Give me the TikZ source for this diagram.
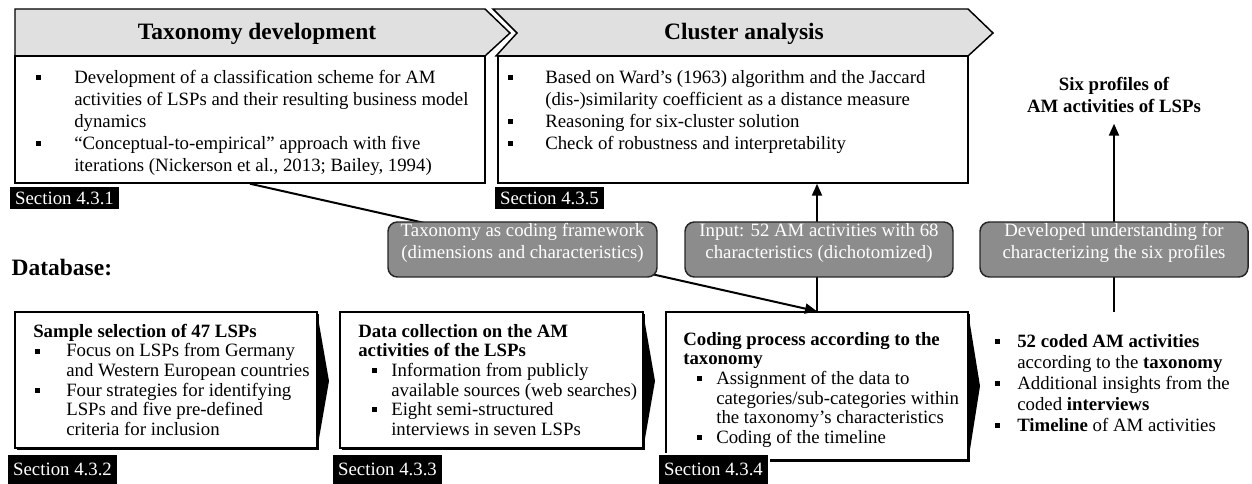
\documentclass[tikz,border=0pt]{standalone}
\usepackage{fontspec}
\setmainfont{Liberation Serif}
\usetikzlibrary{arrows.meta,fit,calc}
\definecolor{hdrgray}{RGB}{224,224,224}
\definecolor{pillgray}{RGB}{140,140,140}
\newcommand\bsq{\rule[2.4pt]{3.8pt}{3.8pt}}
\newcommand\bl[2]{\hspace*{#1}\makebox[#2][l]{\bsq}}
\newcommand\tp{\rule{0pt}{11pt}}
\newcommand\fbody{\fontsize{14.1pt}{16.5pt}\selectfont}
\newcommand\fbot{\fontsize{14.1pt}{14.7pt}\selectfont}
\newcommand\fout{\fontsize{14.1pt}{15.75pt}\selectfont}
\newcommand\fhead{\fontsize{17.6pt}{20pt}\selectfont\bfseries}
\begin{document}
\begin{tikzpicture}[x=0.75pt,y=-0.75pt,
  frame/.style={draw=black,line width=1.1pt},
  hdr/.style={frame,fill=hdrgray},
  boxbody/.style={frame,fill=white,inner sep=0pt},
  txt/.style={anchor=north west,inner sep=0pt,align=left},
  pill/.style={draw=black!85,line width=1.1pt,fill=pillgray,rounded corners=7pt,
    inner sep=0pt,text=white,align=center,font=\fbody},
  seclab/.style={fill=black,draw=white,line width=1.5pt,text=white,inner sep=0pt,
    minimum width=83.25pt,minimum height=18pt,anchor=north west,font=\fbody},
  seclow/.style={seclab,minimum height=23pt},
  conn/.style={line width=1.5pt,-{Triangle[length=9pt,width=7.5pt]}}]
\useasboundingbox (0,0) rectangle (1252,484);

% upper phase: taxonomy development
\draw[hdr] (15,9) -- (485,9) -- (510,33) -- (485,56) -- (15,56) -- cycle;
\node[boxbody,fit={(15,56) (485,183)}] (taxbody) {};
\node[font=\fhead,anchor=base] (taxhead) at (257,40) {Taxonomy development};
\node[txt,font=\fbody] (taxtext) at (36,68.33) {%
\bl{0pt}{28.5pt}\tp Development of a classification scheme for AM\\
\hspace*{28.5pt}activities of LSPs and their resulting business model\\
\hspace*{28.5pt}dynamics\\
\bl{0pt}{28.5pt}“Conceptual-to-empirical” approach with five\\
\hspace*{28.5pt}iterations (Nickerson et al., 2013; Bailey, 1994)};

% upper phase: cluster analysis
\draw[hdr] (493,9) -- (968,9) -- (993,33) -- (968,56) -- (496,56) -- (517,33) -- cycle;
\node[boxbody,fit={(498,56) (968,183)}] (clbody) {};
\node[font=\fhead,anchor=base] (clhead) at (744,40) {Cluster analysis};
\node[txt,font=\fbody] (cltext) at (508,68.33) {%
\bl{0pt}{27.75pt}\tp Based on Ward’s (1963) algorithm and the Jaccard\\
\hspace*{27.75pt}(dis-)similarity coefficient as a distance measure\\
\bl{0pt}{27.75pt}Reasoning for six-cluster solution\\
\bl{0pt}{27.75pt}Check of robustness and interpretability};

% result
\node[txt,font=\fbody\bfseries,anchor=north,align=center] (six) at (1114,75.33)
  {\tp Six profiles of\\AM activities of LSPs};

% database row
\node[font=\fhead,anchor=base west] (db) at (7,276) {Database:};

\fill[black] (317,312) -- (329,381) -- (317,450) -- cycle;
\fill[black] (643,312) -- (655,381) -- (643,450) -- cycle;
\fill[black] (968,312) -- (980,386) -- (968,462) -- cycle;
\fill[black] (17,314) rectangle (319,450);
\fill[black] (342,314) rectangle (645,450);
\fill[black] (668,314) rectangle (970,462);
\node[boxbody,fit={(15,312) (317,448)}] (box1) {};
\node[boxbody,fit={(340,312) (643,448)}] (box2) {};
\node[boxbody,fit={(666,312) (968,460)}] (box3) {};

\node[txt,font=\fbot] (t1) at (33,322.33) {%
\tp\textbf{Sample selection of 47 LSPs}\\
\bl{1.5pt}{23.25pt}Focus on LSPs from Germany\\
\hspace*{24.75pt}and Western European countries\\
\bl{1.5pt}{23.25pt}Four strategies for identifying\\
\hspace*{24.75pt}LSPs and five pre-defined\\
\hspace*{24.75pt}criteria for inclusion};

\node[txt,font=\fbot] (t2) at (358,322.33) {%
\tp\textbf{Data collection on the AM}\\
\textbf{activities of the LSPs}\\
\bl{10.5pt}{14.25pt}Information from publicly\\
\hspace*{24.75pt}available sources (web searches)\\
\bl{10.5pt}{14.25pt}Eight semi-structured\\
\hspace*{24.75pt}interviews in seven LSPs};

\node[txt,font=\fbot] (t3) at (683,330.33) {%
\tp\textbf{Coding process according to the}\\
\textbf{taxonomy}\\
\bl{10.5pt}{14.25pt}Assignment of the data to\\
\hspace*{24.75pt}categories/sub-categories within\\
\hspace*{24.75pt}the taxonomy’s characteristics\\
\bl{10.5pt}{14.25pt}Coding of the timeline};

\node[txt,font=\fout] (outs) at (995,332.33) {%
\bl{0pt}{16.5pt}\tp\textbf{52 coded AM activities}\\
\hspace*{16.5pt}according to the \textbf{taxonomy}\\
\bl{0pt}{16.5pt}Additional insights from the\\
\hspace*{16.5pt}coded \textbf{interviews}\\
\bl{0pt}{16.5pt}\textbf{Timeline} of AM activities};
\coordinate (outtop) at (1114,312);

% connectors
\draw[conn] (taxbody.south) -- (box3.north);
\draw[conn] (box3.north) -- (box3.north |- clbody.south);
\draw[conn] (outtop) -- ($(outtop |- six.south)+(0,11)$);

% transfer labels
\node[pill,fit={(388,222) (657,277)}] (codefw)
  {Taxonomy as coding framework\\(dimensions and characteristics)};
\node[pill,fit={(685,222) (953,277)}] (input)
  {Input: 52 AM activities with 68\\characteristics (dichotomized)};
\node[pill,fit={(980,222) (1248,277)}] (devel)
  {Developed understanding for\\characterizing the six profiles};

% section tags
\node[seclab] (s431) at (8,185) {Section 4.3.1};
\node[seclab] (s435) at (493,185) {Section 4.3.5};
\node[seclow] (s432) at (6,453) {Section 4.3.2};
\node[seclow] (s433) at (331,453) {Section 4.3.3};
\node[seclow] (s434) at (657,453) {Section 4.3.4};
\end{tikzpicture}
\end{document}
